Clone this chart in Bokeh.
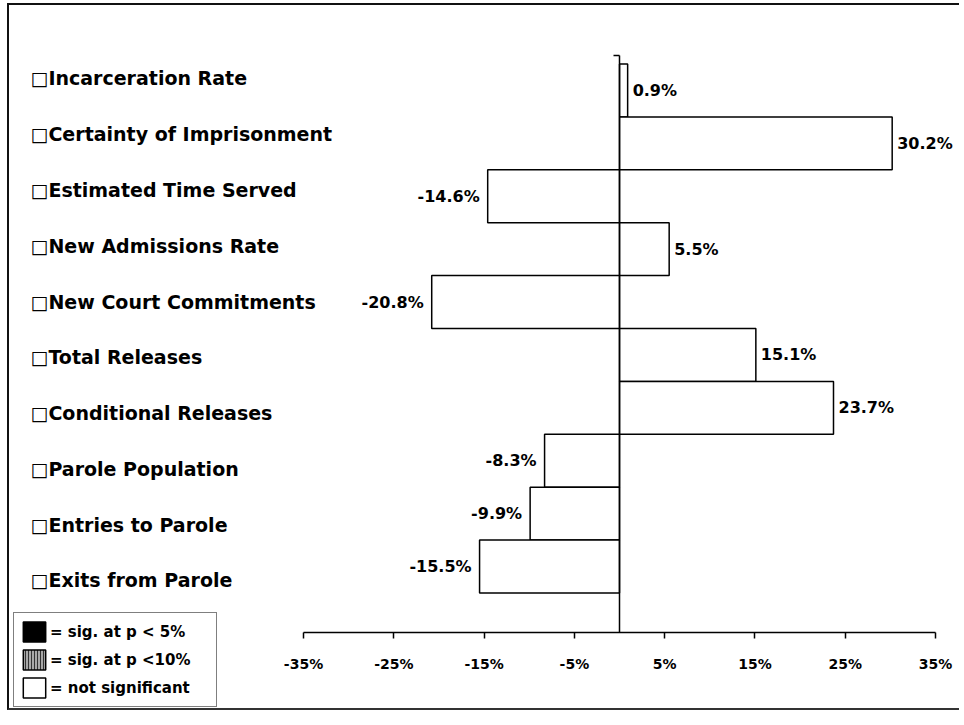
from bokeh.plotting import figure
from bokeh.models import (Range1d, LinearAxis, FixedTicker, PrintfTickFormatter,
                          ColumnDataSource, Legend, LegendItem)
from bokeh.embed import file_html
from bokeh.resources import INLINE
from bokeh.core.properties import value

# ---- data ----
categories = ["Incarceration Rate", "Certainty of Imprisonment", "Estimated Time Served",
              "New Admissions Rate", "New Court Commitments", "Total Releases",
              "Conditional Releases", "Parole Population", "Entries to Parole",
              "Exits from Parole"]
changes = [0.9, 30.2, -14.6, 5.5, -20.8, 15.1, 23.7, -8.3, -9.9, -15.5]
change_labels = ["0.9%", "30.2%", "-14.6%", "5.5%", "-20.8%", "15.1%", "23.7%",
                 "-8.3%", "-9.9%", "-15.5%"]
tick_values = [-35, -25, -15, -5, 5, 15, 25, 35]
legend_labels = ["= sig. at p < 5%", "= sig. at p <10%", "= not significant"]

n = len(categories)
pos = [n - 1 - i for i in range(n)]          # top to bottom
FONT = "DejaVu Sans"
NAN = float("nan")

# layout constants (data-space positions of guides)
AXIS_Y = -1.248
TOP_Y = 9.662
LABEL_X = -65.24

p = figure(width=952, height=707, output_backend="svg", toolbar_location=None,
           x_range=Range1d(-67.563, 37.877), y_range=Range1d(-2.760, 10.607),
           min_border=0, x_axis_location=None, y_axis_location=None)
p.extra_y_ranges = {"labels": Range1d(-2.366, 10.306)}
p.xgrid.visible = False
p.ygrid.visible = False
p.outline_line_color = None
p.background_fill_color = "white"
p.border_fill_color = "white"
p.styles = {"margin-left": "7px", "margin-top": "3px",
            "border-top": "2px solid #111", "border-left": "2px solid #111",
            "border-bottom": "2px solid #333"}

# bars
src = ColumnDataSource(dict(y=pos, v=changes, lab=change_labels, cat=categories))
bars = p.hbar(y="y", left=0, right="v", height=1.0, source=src,
              fill_color="white", line_color="black", line_width=1.5)

# value labels
pos_src = ColumnDataSource(dict(y=[y for y, v in zip(pos, changes) if v >= 0],
                                v=[v for v in changes if v >= 0],
                                lab=[l for l, v in zip(change_labels, changes) if v >= 0]))
neg_src = ColumnDataSource(dict(y=[y for y, v in zip(pos, changes) if v < 0],
                                v=[v for v in changes if v < 0],
                                lab=[l for l, v in zip(change_labels, changes) if v < 0]))
p.text(x="v", y="y", text="lab", source=pos_src, x_offset=5, text_align="left",
       text_baseline="middle", text_font=value(FONT), text_font_style="bold",
       text_font_size="16px", text_color="black")
p.text(x="v", y="y", text="lab", source=neg_src, x_offset=-8, text_align="right",
       text_baseline="middle", text_font=value(FONT), text_font_style="bold",
       text_font_size="16px", text_color="black")

# category labels with check boxes
cat_src = ColumnDataSource(dict(x=[LABEL_X] * n, y=pos,
                                t=["\u25a1" + c for c in categories]))
p.text(x="x", y="y", text="t", source=cat_src, y_range_name="labels",
       text_align="left", text_baseline="middle", text_font=value(FONT),
       text_font_style="bold", text_font_size="19px", text_color="black")

# x axis (drawn at a fixed location inside the frame)
xaxis = LinearAxis(ticker=FixedTicker(ticks=tick_values),
                   formatter=PrintfTickFormatter(format="%d%%"),
                   bounds=(-35, 35), fixed_location=AXIS_Y)
xaxis.axis_line_width = 1.5
xaxis.axis_line_color = "black"
xaxis.major_tick_line_width = 1.5
xaxis.major_tick_out = 6
xaxis.major_tick_in = 0
xaxis.minor_tick_line_color = None
xaxis.major_label_standoff = 17
xaxis.major_label_text_font = FONT
xaxis.major_label_text_font_style = "bold"
xaxis.major_label_text_font_size = "14px"
xaxis.major_label_text_color = "black"
p.add_layout(xaxis, "below")

# category (zero) axis
yaxis = LinearAxis(ticker=FixedTicker(ticks=[TOP_Y]), bounds=(AXIS_Y, TOP_Y),
                   fixed_location=0)
yaxis.axis_line_width = 1.5
yaxis.axis_line_color = "black"
yaxis.major_tick_line_width = 1.5
yaxis.major_tick_out = 6
yaxis.major_tick_in = 0
yaxis.minor_tick_line_color = None
yaxis.major_label_text_font_size = "0px"
yaxis.major_label_text_alpha = 0
p.add_layout(yaxis, "left")

# legend (significance key; no bar in this chart is significant)
sig5_src = ColumnDataSource(dict(y=[NAN], v=[NAN]))
sig10_src = ColumnDataSource(dict(y=[NAN], v=[NAN]))
r_sig5 = p.hbar(y="y", left=0, right="v", height=1.0, source=sig5_src,
                fill_color="black", line_color="black", line_width=1.5)
r_sig10 = p.hbar(y="y", left=0, right="v", height=1.0, source=sig10_src,
                 fill_color="#a8a8a8", line_color="black", line_width=1.5,
                 hatch_pattern="vertical_line", hatch_color="#333333",
                 hatch_scale=3, hatch_weight=1)
legend = Legend(items=[LegendItem(label=legend_labels[0], renderers=[r_sig5]),
                       LegendItem(label=legend_labels[1], renderers=[r_sig10]),
                       LegendItem(label=legend_labels[2], renderers=[bars])],
                location=(4, 5), orientation="vertical",
                glyph_width=28, glyph_height=25, label_standoff=2, spacing=3,
                padding=6, margin=0, border_line_color="black", border_line_width=1.5,
                background_fill_color="white", background_fill_alpha=1.0,
                label_text_font=FONT, label_text_font_style="bold",
                label_text_font_size="15px", label_text_color="black",
                label_height=25, label_width=160)
p.add_layout(legend, "center")

open("out.html", "w").write(file_html(p, INLINE))
